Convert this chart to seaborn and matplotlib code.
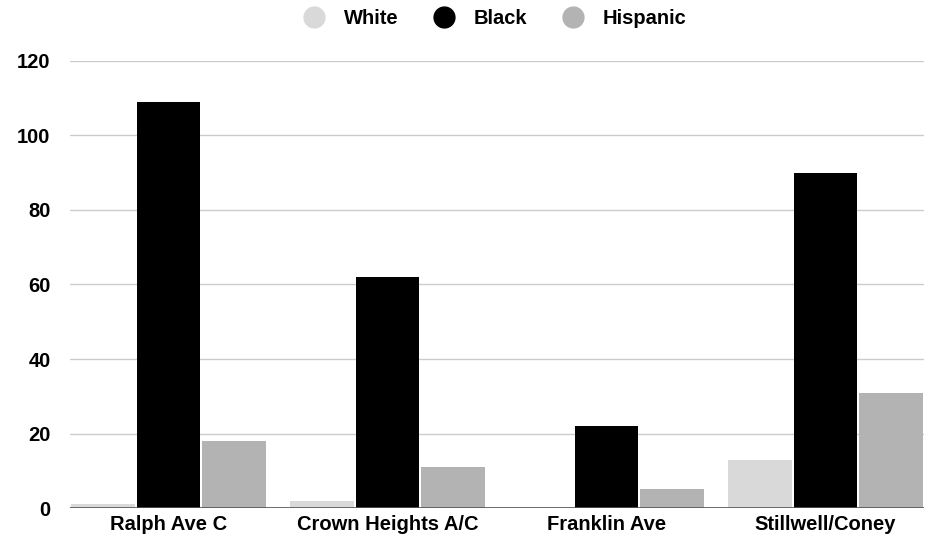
import seaborn as sns
import matplotlib.pyplot as plt
import pandas as pd
from matplotlib.lines import Line2D

# data
stations = ["Ralph Ave C", "Crown Heights A/C", "Franklin Ave", "Stillwell/Coney"]
white = [1, 2, 0, 13]
black = [109, 62, 22, 90]
hispanic = [18, 11, 5, 31]
groups = ["White", "Black", "Hispanic"]
colores = {"White": "#d9d9d9", "Black": "#000000", "Hispanic": "#b3b3b3"}

df = pd.DataFrame({
    "station": stations * 3,
    "group": ["White"] * 4 + ["Black"] * 4 + ["Hispanic"] * 4,
    "count": white + black + hispanic,
})

sns.set_style("white")
plt.rcParams['font.family'] = ['Liberation Sans', 'DejaVu Sans']
plt.rcParams['font.weight'] = 'bold'
plt.rcParams['text.color'] = 'black'
plt.rcParams['xtick.color'] = 'black'
plt.rcParams['ytick.color'] = 'black'

fig = plt.figure(figsize=(9.32, 5.42), dpi=100)
ax = fig.add_axes([0.0751, 0.0627, 0.9163, 0.8248])

sns.barplot(data=df, x="station", y="count", hue="group", hue_order=groups,
            palette=colores, width=0.9, gap=0.03, ax=ax, legend=False,
            edgecolor="none", zorder=3)

ax.set_xlim(-0.45, 3.45)
ax.set_ylim(0, 120)
ax.set_yticks(range(0, 121, 20))
ax.yaxis.grid(True, color="#cccccc", linewidth=1, zorder=0)
ax.axhline(0, color="#555555", linewidth=1.2, zorder=4)
for s in ax.spines.values():
    s.set_visible(False)
ax.set_xlabel("")
ax.set_ylabel("")
ax.tick_params(axis="both", length=0, labelsize=14.5, pad=5, labelcolor="black")
ax.tick_params(axis="y", pad=14)
for lbl in ax.get_xticklabels() + ax.get_yticklabels():
    lbl.set_fontweight("bold")

handles = [Line2D([0], [0], marker="o", linestyle="", markersize=15,
                  markerfacecolor=colores[g], markeredgecolor=colores[g]) for g in groups]
fig.legend(handles, groups, loc="upper center", bbox_to_anchor=(0.526, 1.016), ncol=3,
           frameon=False, prop={"size": 14.5, "weight": "bold"},
           handletextpad=0.5, columnspacing=1.25)

plt.savefig("out.png", dpi=100)
